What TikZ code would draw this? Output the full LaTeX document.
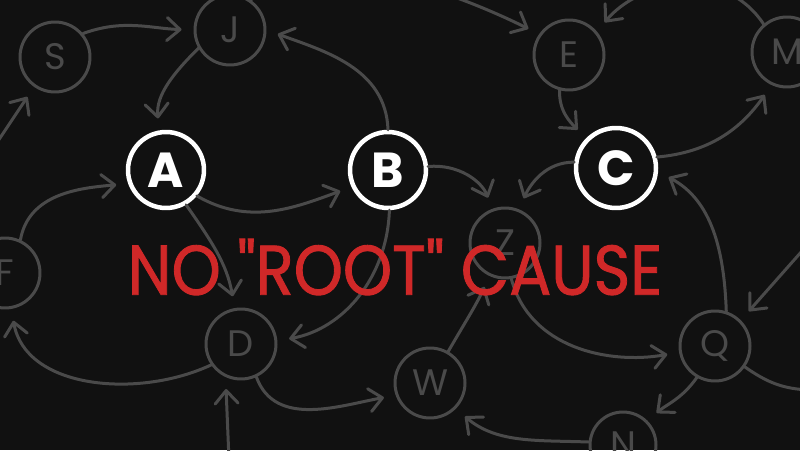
\documentclass[tikz,border=0pt]{standalone}
\usepackage{fontspec}
\setmainfont{Poppins}
\newfontfamily\headfont{Poppins}[Ligatures=TeXOff, FakeBold=1.3]
\usetikzlibrary{arrows.meta}
\definecolor{boardbg}{HTML}{111111}
\definecolor{chalkgray}{HTML}{4A4A4A}
\definecolor{markerred}{HTML}{D02828}

\begin{document}
\begin{tikzpicture}[x=0.02cm, y=0.02cm,
  faded/.style={circle, draw=chalkgray, line width=0.06cm, minimum size=1.4cm, inner sep=0pt, text=chalkgray, font=\fontsize{21}{21}\selectfont},
  focus/.style={circle, draw=white, line width=0.09cm, minimum size=1.52cm, inner sep=0pt, text=white, font=\fontsize{28}{28}\selectfont\bfseries},
  link/.style={draw=chalkgray, line width=0.06cm, line cap=round},
  arrow/.style={link, -{Straight Barb[round, length=2.6mm, width=4.6mm]}, shorten >=0.24cm}]

\useasboundingbox (0,0) rectangle (800,450);
\fill[boardbg] (0,0) rectangle (800,450);
\clip (0,0) rectangle (800,450);

% faded nodes
\node[faded] (S) at (55,393) {S};
\node[faded] (J) at (230,420) {J};
\node[faded] (E) at (569,395) {E};
\node[faded] (M) at (787,398) {M};
\node[faded] (F) at (5,177) {F};
\node[faded] (Z) at (505,207) {Z};
\node[faded] (D) at (241,106) {D};
\node[faded] (W) at (430,67) {W};
\node[faded] (Q) at (715,104) {Q};
\node[faded, minimum size=1.32cm] (N) at (623,5) {N};

% highlighted nodes
\node[focus] (A) at (166,280) {A};
\node[focus] (B) at (388,280) {B};
\node[focus, minimum size=1.6cm] (C) at (616,282) {C};

% loose ends outside the frame
\coordinate (fromright) at (810,208);
\coordinate (toright) at (810,60);
\coordinate (fromleft) at (-8,300);
\coordinate (frombottom) at (229,-10);

% connectors
\draw[arrow] (S.40) to[out=20, in=178] (J.west);
\draw[arrow] (J.210) to[out=225, in=95] (A.100);
\draw[arrow] (B.north) to[out=92, in=-20] (J.east);
\draw[arrow] (J.55) .. controls +(40,60) and (430,470) .. (E.145);
\draw[arrow] (M.130) .. controls +(-40,60) and (640,470) .. (E.40);
\draw[arrow] (E.255) to[out=268, in=135] (C.135);
\draw[arrow] (C.15) to[out=5, in=235] (M.245);
\draw[arrow] (C.172) to[out=180, in=65] (Z.68);
\draw[arrow] (Q.72) to[out=92, in=-28] (C.-5);
\draw[arrow] (fromright) -- (Q.45);
\draw[link] (Q.-35) to[out=-35, in=178] (toright);
\draw[arrow] (Q.240) to[out=235, in=40] (N.45);
\draw[arrow] (N.175) to[out=178, in=-40] (W.-45);
\draw[arrow] (W.60) to[out=60, in=245] (Z.245);
\draw[arrow] (Z.-80) to[out=-75, in=190] (Q.190);
\draw[arrow] (B.-88) to[out=-92, in=10] (D.5);
\draw[arrow] (B.5) to[out=5, in=112] (Z.110);
\draw[arrow] (A.-40) to[out=-30, in=200] (B.205);
\draw[arrow] (A.-60) to[out=-55, in=100] (D.100);
\draw[arrow] (F.65) to[out=80, in=185] (A.200);
\draw[arrow] (fromleft) -- (S.235);
\draw[arrow] (D.215) to[out=205, in=-80] (F.-80);
\draw[arrow] (D.-65) to[out=-70, in=190] (W.200);
\draw[arrow] (frombottom) -- (D.245);

% headline
\node[text=markerred, font=\headfont\fontsize{40}{40}\selectfont, xscale=0.89] (headline) at (395,183) {NO "ROOT" CAUSE};
\end{tikzpicture}
\end{document}
